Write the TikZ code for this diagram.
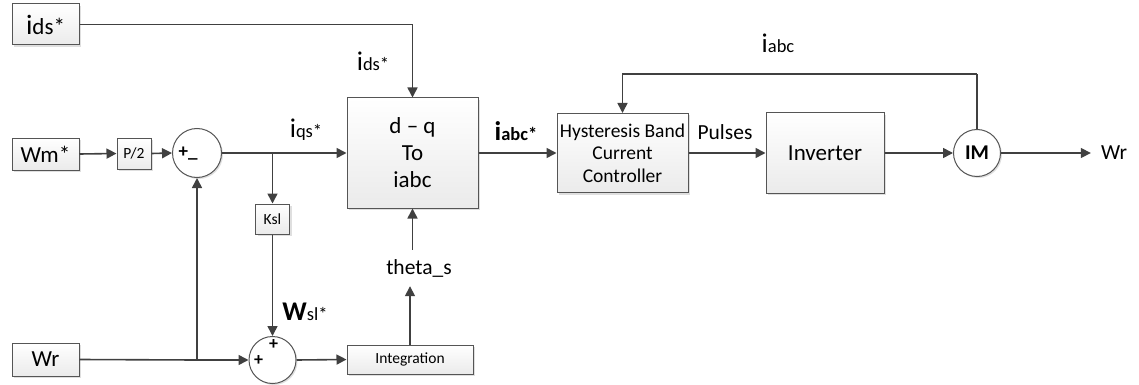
\documentclass[tikz,border=0pt]{standalone}
\usepackage{fontspec}
\setmainfont{Carlito}
\usetikzlibrary{arrows.meta,shadows,calc}
\definecolor{lnc}{HTML}{404040}
\definecolor{bdc}{HTML}{555555}
\newcommand{\BigSmall}[2]{{\fontsize{27}{27}\selectfont #1}{\fontsize{18.5}{18.5}\selectfont #2}}
\tikzset{
  conn/.style={draw=lnc, line width=1.6pt, -{Triangle[length=10pt,width=10pt]}},
  wire/.style={draw=lnc, line width=1.6pt},
  blk/.style={draw=bdc, line width=1pt, top color=white, bottom color=gray!16,
    drop shadow={shadow xshift=2pt, shadow yshift=-2pt, opacity=0.25},
    inner sep=0pt, align=center, text=black},
  smallblk/.style={blk, font=\fontsize{15.5}{17}\selectfont},
  sumc/.style={circle, draw=bdc, line width=1pt, fill=white,
    drop shadow={shadow xshift=1.5pt, shadow yshift=-1.5pt, opacity=0.25}, inner sep=0pt},
  lbl/.style={inner sep=0pt, text=black},
  bigtxt/.style={font=\fontsize{23}{27}\selectfont},
}
\begin{document}
\begin{tikzpicture}[x=1pt,y=-1pt]
\useasboundingbox (0,0) rectangle (1139,385);
% blocks
\node[blk, minimum width=67pt, minimum height=41pt] (ids) at (45.5,24.5)
  {{\fontsize{28}{28}\selectfont i}{\fontsize{23}{23}\selectfont ds*}};
\node[blk, bigtxt, minimum width=67pt, minimum height=32pt] (wm) at (45.5,154) {Wm*};
\node[blk, bigtxt, minimum width=67pt, minimum height=33pt] (wr) at (45.5,359.5) {Wr};
\node[smallblk, minimum width=34pt, minimum height=31pt] (p2) at (134,153.5) {P/2};
\node[sumc, minimum size=49pt] (s1) at (197,153) {};
\node[lbl, font=\fontsize{19}{19}\selectfont\bfseries] (s1t) at (188,154) {+\_};
\node[blk, bigtxt, minimum width=131pt, minimum height=110pt] (dq) at (412.5,153)
  {d -- q\\To\\iabc};
\node[smallblk, minimum width=34pt, minimum height=30pt] (ksl) at (272.5,219) {Ksl};
\node[sumc, minimum size=47pt] (s2) at (272.5,360) {};
\node[lbl, font=\fontsize{18}{18}\selectfont\bfseries] (s2a) at (273.5,345) {+};
\node[lbl, font=\fontsize{18}{18}\selectfont\bfseries] (s2b) at (258.5,361) {+};
\node[smallblk, minimum width=126pt, minimum height=29pt] (integ) at (410,359.5) {Integration};
\node[lbl, font=\fontsize{21.5}{21.5}\selectfont, minimum height=36pt] (theta) at (419,268) {theta\_s};
\node[blk, font=\fontsize{19.5}{22.5}\selectfont, minimum width=131pt, minimum height=79pt] (hyst) at (622.5,153)
  {Hysteresis Band\\Current\\Controller};
\node[blk, bigtxt, minimum width=118pt, minimum height=80pt] (inv) at (825,153) {Inverter};
\node[sumc, minimum size=47pt, font=\fontsize{21}{21}\selectfont\bfseries] (im) at (977,153) {IM};
\node[lbl, font=\fontsize{21.5}{21.5}\selectfont] (wrout) at (1114,153) {Wr};
% labels
\node[lbl] (lids) at (373,61) {\BigSmall{i}{ds*}};
\node[lbl] (liqs) at (306,130) {\BigSmall{i}{qs*}};
\node[lbl, font=\bfseries] (liabc) at (516,131) {\BigSmall{\bfseries i}{\bfseries abc*}};
\node[lbl] (lwsl) at (305,312) {{\fontsize{27}{27}\selectfont\bfseries W}{\fontsize{18.5}{18.5}\selectfont sl*}};
\node[lbl, font=\fontsize{21.5}{21.5}\selectfont] (lpul) at (725,132) {Pulses};
\node[lbl] (liab) at (778,43) {\BigSmall{i}{abc}};
% coordinates
\coordinate (b1) at (272.5,153);
\coordinate (b2) at (197,360);
\coordinate (fb) at (977,74);
% connectors
\draw[conn] (ids.east) -| (dq.north);
\draw[conn] (wm.east) -- (p2.west);
\draw[conn] (p2.east) -- (s1.west);
\draw[conn] (s1.east) -- (dq.west);
\draw[conn] (b1) -- (ksl.north);
\draw[conn] (ksl.south) -- (s2.north);
\draw[wire] (wr.east) -- (b2);
\draw[conn] (b2) -- (s2.west);
\draw[conn] (b2) -- (s1.south);
\draw[conn] (s2.east) -- (integ.west);
\draw[conn] (integ.north) -- (integ.north |- theta.south);
\draw[conn] (dq.south |- theta.north) -- (dq.south);
\draw[conn] (dq.east) -- (hyst.west);
\draw[conn] (hyst.east) -- (inv.west);
\draw[conn] (inv.east) -- (im.west);
\draw[conn, shorten >=10pt] (im.east) -- (wrout.west);
\draw[wire] (im.north) -- (fb);
\draw[conn] (fb) -| (hyst.north);
\end{tikzpicture}
\end{document}
